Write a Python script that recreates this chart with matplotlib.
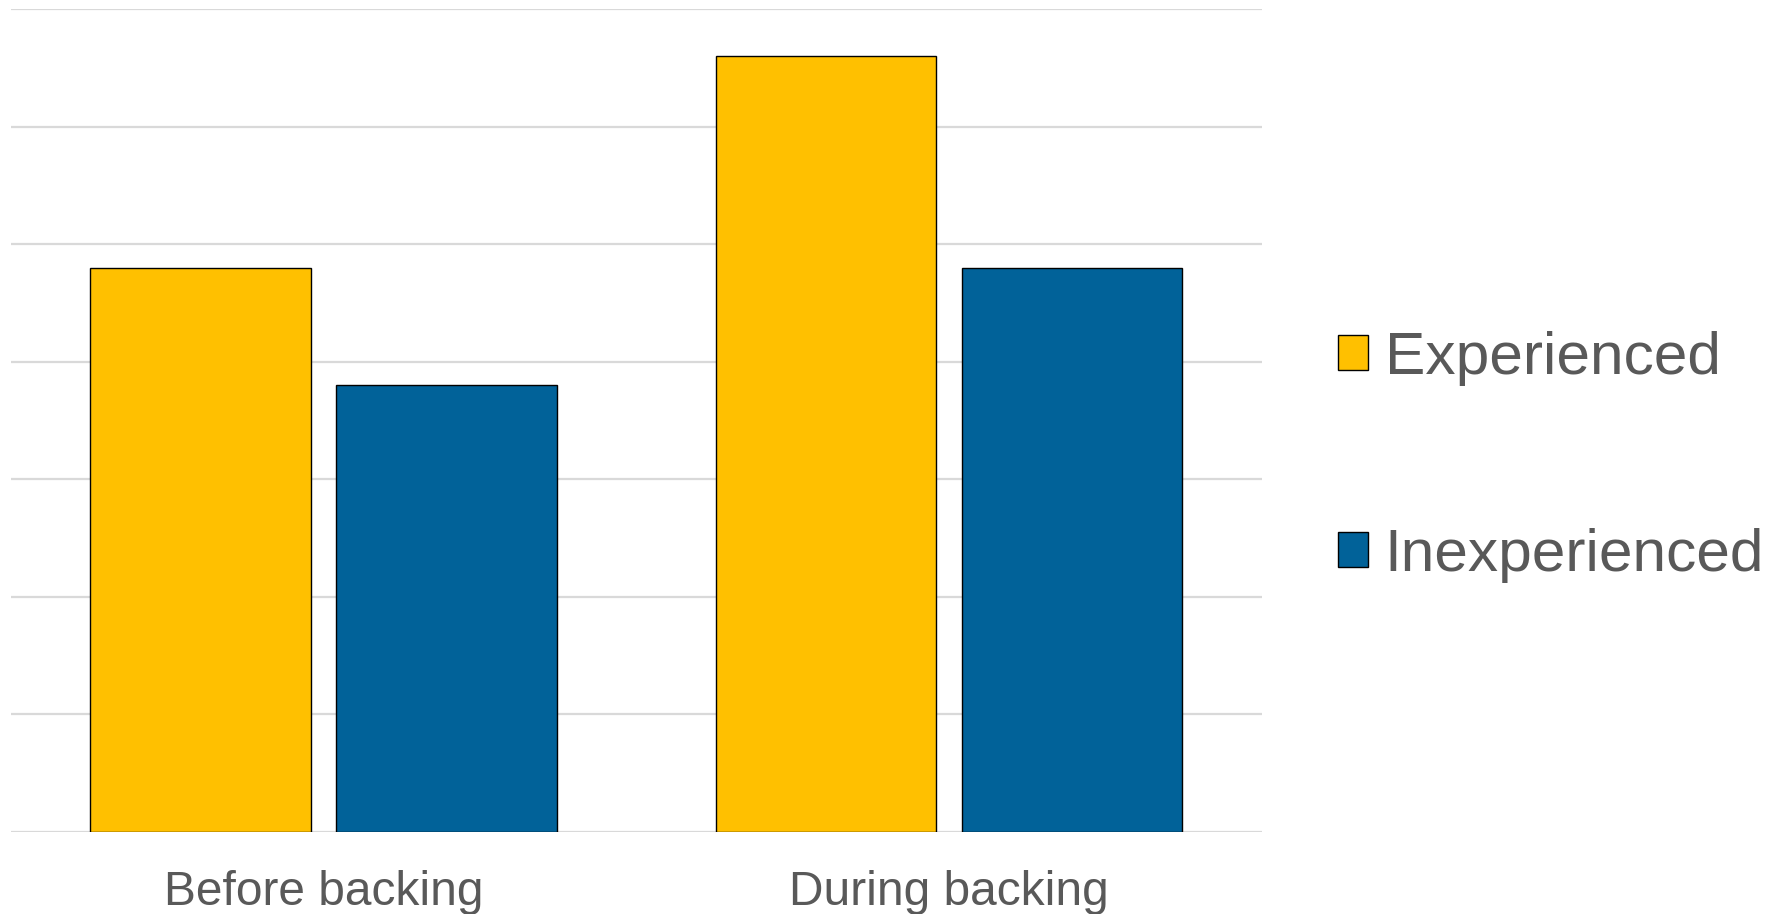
import numpy as np
import matplotlib.pyplot as plt

plt.rcParams['font.family'] = ['Liberation Sans', 'DejaVu Sans']

# Survey groups and bar heights
categories = ['Before backing', 'During backing']
experienced = [4.8, 6.6]
inexperienced = [3.8, 4.8]

yellow = '#FFC000'
blue = '#016299'
text_grey = '#595959'

fig = plt.figure(figsize=(17.74, 9.14), dpi=100)
ax = fig.add_axes([0.0062, 0.0897, 0.705, 0.9005])

x = np.arange(len(categories))
w = 0.353
off = w / 2 + 0.02
ax.bar(x - off, experienced, w, color=yellow, edgecolor='black', linewidth=1.0,
       label='Experienced', zorder=3)
ax.bar(x + off, inexperienced, w, color=blue, edgecolor='black', linewidth=1.0,
       label='Inexperienced', zorder=3)

ax.set_xlim(-0.5, 1.5)
ax.set_ylim(0, 7)
ax.set_yticks(np.arange(0, 8))
ax.yaxis.grid(True, color='#d9d9d9', linewidth=1.6, zorder=0)
ax.set_yticklabels([])
ax.tick_params(axis='y', length=0)
ax.tick_params(axis='x', length=0, pad=27, labelsize=34.5, labelcolor=text_grey)
ax.set_xticks(x)
ax.set_xticklabels(categories)
for s in ax.spines.values():
    s.set_visible(False)

ax.legend(loc='center left', bbox_to_anchor=(0.737, 0.5),
          bbox_transform=fig.transFigure, frameon=False, fontsize=43.5,
          labelcolor=text_grey, handlelength=0.5, handleheight=0.5,
          handletextpad=0.28, labelspacing=2.35, borderpad=0)

fig.savefig('out.png', dpi=100)
